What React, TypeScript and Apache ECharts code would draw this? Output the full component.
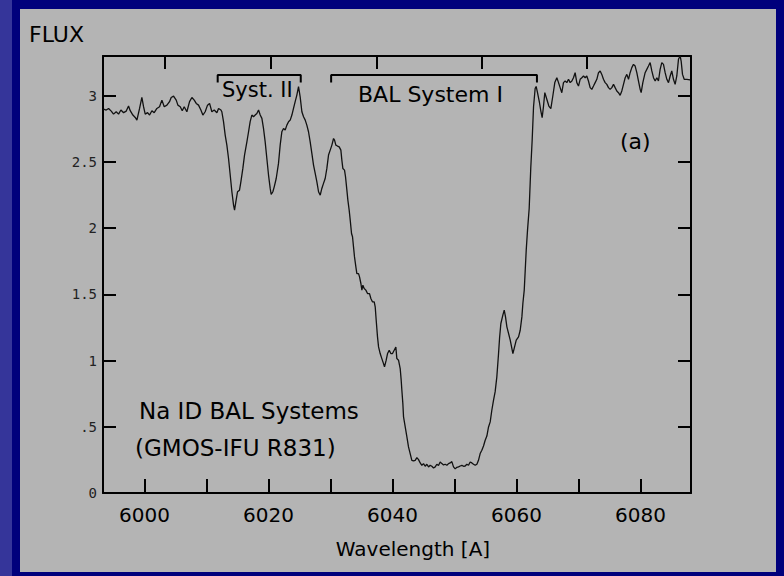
import React, { useEffect, useRef } from "react";
import * as echarts from "echarts";

// Wavelength samples [Å] and flux values
const wavelengths: number[] = [
  5993.39, 5993.82, 5994.2, 5994.63, 5995.0, 5995.43, 5995.81, 5996.19, 5996.62, 5997.05,
  5997.42, 5997.69, 5998.12, 5998.5, 5998.77, 5999.2, 5999.57, 5999.84, 6000.11, 6000.49,
  6000.81, 6001.19, 6001.56, 6001.99, 6002.42, 6002.8, 6003.18, 6003.61, 6004.03, 6004.3,
  6004.68, 6005.11, 6005.38, 6005.76, 6006.08, 6006.4, 6006.83, 6007.26, 6007.64, 6008.02,
  6008.34, 6008.71, 6009.09, 6009.41, 6009.78, 6010.16, 6010.49, 6010.86, 6011.24, 6011.67,
  6011.94, 6012.32, 6012.47, 6012.74, 6013.01, 6013.28, 6013.55, 6013.82, 6014.09, 6014.36,
  6014.52, 6014.73, 6015.0, 6015.32, 6015.54, 6015.86, 6016.13, 6016.51, 6016.78, 6017.04,
  6017.31, 6017.58, 6017.85, 6018.12, 6018.39, 6018.66, 6018.93, 6019.19, 6019.46, 6019.73,
  6020.0, 6020.27, 6020.43, 6020.7, 6020.92, 6021.24, 6021.61, 6021.88, 6022.15, 6022.42,
  6022.69, 6022.96, 6023.23, 6023.5, 6023.77, 6024.03, 6024.3, 6024.57, 6024.84, 6025.11,
  6025.38, 6025.65, 6025.92, 6026.18, 6026.45, 6026.72, 6026.99, 6027.26, 6027.53, 6027.8,
  6028.07, 6028.34, 6028.6, 6028.87, 6029.14, 6029.41, 6029.68, 6029.95, 6030.22, 6030.49,
  6030.65, 6030.86, 6031.13, 6031.4, 6031.67, 6031.83, 6031.99, 6032.26, 6032.42, 6032.64,
  6032.8, 6033.01, 6033.18, 6033.39, 6033.55, 6033.71, 6033.87, 6034.09, 6034.25, 6034.52,
  6034.68, 6034.9, 6035.06, 6035.22, 6035.43, 6035.7, 6035.97, 6036.29, 6036.51, 6036.78,
  6037.05, 6037.21, 6037.37, 6037.58, 6037.75, 6038.01, 6038.28, 6038.55, 6038.71, 6038.98,
  6039.2, 6039.47, 6039.73, 6040.0, 6040.27, 6040.54, 6040.7, 6040.97, 6041.24, 6041.4,
  6041.51, 6041.67, 6041.78, 6042.05, 6042.32, 6042.58, 6042.85, 6043.12, 6043.39, 6043.66,
  6043.93, 6044.2, 6044.47, 6044.73, 6045.0, 6045.27, 6045.54, 6045.81, 6046.08, 6046.35,
  6046.62, 6046.89, 6047.15, 6047.42, 6047.69, 6047.96, 6048.23, 6048.5, 6048.77, 6049.04,
  6049.3, 6049.57, 6049.84, 6050.11, 6050.38, 6050.65, 6050.92, 6051.19, 6051.46, 6051.72,
  6051.99, 6052.26, 6052.53, 6052.8, 6053.07, 6053.34, 6053.61, 6053.87, 6054.14, 6054.41,
  6054.68, 6054.95, 6055.22, 6055.49, 6055.76, 6056.02, 6056.29, 6056.56, 6056.83, 6057.1,
  6057.27, 6057.48, 6057.8, 6058.02, 6058.23, 6058.45, 6058.99, 6059.42, 6059.69, 6059.96,
  6060.33, 6060.6, 6060.87, 6061.03, 6061.25, 6061.41, 6061.57, 6061.78, 6062.05, 6062.3,
  6062.53, 6062.75, 6063.01, 6063.17, 6063.39, 6063.71, 6063.93, 6064.14, 6064.36, 6064.57,
  6064.89, 6065.22, 6065.54, 6065.86, 6066.18, 6066.51, 6066.78, 6067.04, 6067.31, 6067.58,
  6067.85, 6068.12, 6068.39, 6068.66, 6068.93, 6069.19, 6069.46, 6069.73, 6070.0, 6070.27,
  6070.54, 6070.81, 6071.08, 6071.34, 6071.61, 6071.88, 6072.15, 6072.42, 6072.69, 6072.96,
  6073.23, 6073.5, 6073.76, 6074.03, 6074.3, 6074.57, 6074.84, 6075.11, 6075.38, 6075.65,
  6075.91, 6076.18, 6076.45, 6076.72, 6076.99, 6077.26, 6077.53, 6077.8, 6078.07, 6078.33,
  6078.6, 6078.87, 6079.14, 6079.41, 6079.68, 6079.95, 6080.11, 6080.38, 6080.75, 6081.02,
  6081.29, 6081.56, 6081.83, 6082.1, 6082.37, 6082.64, 6082.9, 6083.17, 6083.44, 6083.71,
  6083.98, 6084.25, 6084.52, 6084.79, 6085.05, 6085.32, 6085.59, 6085.86, 6086.13, 6086.4,
  6086.56, 6086.78, 6087.05, 6087.48, 6088.01,
];

const flux: number[] = [
  2.899, 2.892, 2.904, 2.884, 2.861, 2.879, 2.861, 2.892, 2.872, 2.884,
  2.922, 2.887, 2.854, 2.836, 2.816, 2.904, 2.987, 2.917, 2.861, 2.872,
  2.854, 2.887, 2.872, 2.904, 2.917, 2.967, 2.917, 2.929, 2.955, 2.987,
  2.997, 2.967, 2.929, 2.917, 2.887, 2.917, 2.879, 2.955, 2.987, 2.967,
  2.942, 2.929, 2.892, 2.854, 2.879, 2.929, 2.942, 2.879, 2.892, 2.872,
  2.904, 2.892, 2.879, 2.804, 2.703, 2.627, 2.526, 2.401, 2.275, 2.174,
  2.136, 2.199, 2.275, 2.287, 2.35, 2.451, 2.552, 2.652, 2.728, 2.804,
  2.854, 2.841, 2.854, 2.866, 2.892, 2.854, 2.829, 2.753, 2.652, 2.526,
  2.401, 2.3, 2.254, 2.275, 2.312, 2.375, 2.489, 2.627, 2.728, 2.753,
  2.741, 2.778, 2.804, 2.816, 2.854, 2.904, 2.955, 3.005, 3.068, 2.99,
  2.879, 2.841, 2.816, 2.778, 2.728, 2.652, 2.564, 2.476, 2.413, 2.35,
  2.275, 2.249, 2.3, 2.338, 2.375, 2.451, 2.552, 2.589, 2.627, 2.677,
  2.665, 2.627, 2.62, 2.614, 2.589, 2.514, 2.451, 2.438, 2.388, 2.287,
  2.212, 2.136, 2.061, 1.96, 1.935, 1.859, 1.783, 1.708, 1.657, 1.657,
  1.632, 1.582, 1.532, 1.569, 1.544, 1.532, 1.506, 1.506, 1.469, 1.443,
  1.443, 1.406, 1.305, 1.179, 1.103, 1.053, 1.015, 0.977, 0.952, 1.003,
  1.053, 1.078, 1.053, 1.053, 1.078, 1.103, 1.015, 1.003, 0.94, 0.852,
  0.776, 0.675, 0.575, 0.499, 0.424, 0.348, 0.298, 0.247, 0.242, 0.247,
  0.267, 0.252, 0.227, 0.209, 0.222, 0.202, 0.217, 0.197, 0.209, 0.202,
  0.189, 0.197, 0.217, 0.207, 0.234, 0.222, 0.212, 0.217, 0.209, 0.222,
  0.227, 0.237, 0.197, 0.182, 0.194, 0.197, 0.204, 0.209, 0.202, 0.204,
  0.217, 0.209, 0.234, 0.227, 0.217, 0.209, 0.217, 0.247, 0.298, 0.323,
  0.355, 0.398, 0.43, 0.499, 0.537, 0.625, 0.7, 0.765, 0.877, 1.05,
  1.17, 1.28, 1.343, 1.381, 1.33, 1.255, 1.154, 1.053, 1.103, 1.154,
  1.179, 1.229, 1.33, 1.431, 1.532, 1.683, 1.834, 1.985, 2.15, 2.45,
  2.665, 2.917, 3.055, 3.07, 3.023, 2.947, 2.884, 2.834, 2.922, 3.023,
  2.973, 2.922, 2.902, 2.998, 3.099, 3.136, 3.099, 3.061, 3.023, 3.099,
  3.111, 3.099, 3.124, 3.099, 3.111, 3.136, 3.174, 3.099, 3.073, 3.124,
  3.136, 3.149, 3.136, 3.149, 3.111, 3.061, 3.048, 3.073, 3.099, 3.124,
  3.174, 3.187, 3.161, 3.124, 3.099, 3.086, 3.061, 3.048, 3.061, 3.086,
  3.061, 3.036, 3.023, 3.003, 3.036, 3.086, 3.136, 3.161, 3.124, 3.174,
  3.212, 3.237, 3.224, 3.174, 3.111, 3.048, 3.023, 3.099, 3.174, 3.199,
  3.224, 3.25, 3.187, 3.136, 3.111, 3.136, 3.111, 3.199, 3.25, 3.237,
  3.174, 3.124, 3.099, 3.149, 3.187, 3.124, 3.086, 3.149, 3.275, 3.3,
  3.262, 3.161, 3.124, 3.124, 3.119,
];

// Axis ticks and labels
const xTickValues: number[] = [6000, 6010, 6020, 6030, 6040, 6050, 6060, 6070, 6080];
const xLabelValues: number[] = [6000, 6020, 6040, 6060, 6080];
const topTickWavelengths: number[] = [6003.3, 6020.4, 6037.4, 6054.4, 6071.4];
const yTickValues: number[] = [0, 0.5, 1, 1.5, 2, 2.5, 3];

// Absorption system brackets [start, end] in Å, and their heights in flux units
const bracketSystII: number[] = [6011.8, 6025.2];
const bracketSystI: number[] = [6030.1, 6063.3];
const bracketTop = 3.157;
const bracketFoot = 3.099;

const SANS = '"DejaVu Sans", "Liberation Sans", sans-serif';

function bracketData(r: number[]) {
  return [
    [r[0], bracketFoot],
    [r[0], bracketTop],
    [r[1], bracketTop],
    [r[1], bracketFoot],
  ];
}

export default function App() {
  const ref = useRef<HTMLDivElement>(null);
  useEffect(() => {
    const chart = echarts.init(ref.current!, null, { renderer: "svg" });
    const axisLine = { show: true, onZero: false, lineStyle: { color: "#000", width: 2 } };
    const tickStyle = { color: "#000", width: 2 };
    chart.setOption({
      animation: false,
      backgroundColor: "transparent",
      grid: { left: 103, top: 56, width: 588, height: 437, containLabel: false, outerBoundsMode: "none" },
      xAxis: [
        {
          type: "value",
          position: "bottom",
          min: 5993.3,
          max: 6088.15,
          axisLine,
          axisTick: { show: true, inside: true, length: 14, lineStyle: tickStyle, customValues: xTickValues },
          axisLabel: {
            show: true,
            customValues: xLabelValues,
            margin: 12,
            color: "#000",
            fontFamily: SANS,
            fontSize: 20,
            formatter: (v: number) => String(Math.round(v)),
          },
          splitLine: { show: false },
        },
        {
          type: "value",
          position: "top",
          min: 5993.3,
          max: 6088.15,
          axisLine,
          axisTick: { show: true, inside: true, length: 13, lineStyle: tickStyle, customValues: topTickWavelengths },
          axisLabel: { show: false },
          splitLine: { show: false },
        },
      ],
      yAxis: [
        {
          type: "value",
          position: "left",
          min: 0,
          max: 3.3,
          axisLine,
          axisTick: { show: true, inside: true, length: 13, lineStyle: tickStyle, customValues: yTickValues },
          axisLabel: {
            show: true,
            customValues: yTickValues,
            margin: 6,
            color: "#222",
            fontFamily: '"DejaVu Sans Mono", monospace',
            fontSize: 14,
            verticalAlign: "middle",
            padding: [9, 0, 0, 0],
            formatter: (v: number) => (v === 0 ? "0" : String(v).replace(/^0\./, ".")),
          },
          splitLine: { show: false },
        },
        {
          type: "value",
          position: "right",
          min: 0,
          max: 3.3,
          axisLine,
          axisTick: { show: true, inside: true, length: 13, lineStyle: tickStyle, customValues: yTickValues },
          axisLabel: { show: false },
          splitLine: { show: false },
        },
      ],
      series: [
        {
          type: "line",
          xAxisIndex: 0,
          yAxisIndex: 0,
          data: wavelengths.map((w, i) => [w, flux[i]]),
          showSymbol: false,
          symbol: "none",
          lineStyle: { color: "#111", width: 1.3 },
          silent: true,
        },
        {
          type: "line",
          xAxisIndex: 0,
          yAxisIndex: 0,
          data: bracketData(bracketSystII),
          showSymbol: false,
          symbol: "none",
          lineStyle: { color: "#000", width: 2 },
          silent: true,
        },
        {
          type: "line",
          xAxisIndex: 0,
          yAxisIndex: 0,
          data: bracketData(bracketSystI),
          showSymbol: false,
          symbol: "none",
          lineStyle: { color: "#000", width: 2 },
          silent: true,
        },
      ],
      graphic: [
        { type: "text", x: 29, y: 34, style: { text: "FLUX", fill: "#000", font: `22px ${SANS}`, textAlign: "left", textVerticalAlign: "middle" } },
        { type: "text", x: 222, y: 90, style: { text: "Syst. II", fill: "#000", font: `21px ${SANS}`, textAlign: "left", textVerticalAlign: "middle" } },
        { type: "text", x: 358, y: 94, style: { text: "BAL System I", fill: "#000", font: `22px ${SANS}`, textAlign: "left", textVerticalAlign: "middle" } },
        { type: "text", x: 620, y: 141, style: { text: "(a)", fill: "#000", font: `22px ${SANS}`, textAlign: "left", textVerticalAlign: "middle" } },
        { type: "text", x: 139, y: 411, style: { text: "Na ID BAL Systems", fill: "#000", font: `23px ${SANS}`, textAlign: "left", textVerticalAlign: "middle" } },
        { type: "text", x: 135, y: 448, style: { text: "(GMOS-IFU R831)", fill: "#000", font: `23px ${SANS}`, textAlign: "left", textVerticalAlign: "middle" } },
        { type: "text", x: 413, y: 549, style: { text: "Wavelength [A]", fill: "#000", font: `20px ${SANS}`, textAlign: "center", textVerticalAlign: "middle" } },
      ],
    });
    return () => chart.dispose();
  }, []);
  return (
    <div style={{ position: "fixed", left: 0, top: 0, width: 784, height: 576, background: "#35359a", overflow: "hidden" }}>
      <div style={{ position: "absolute", left: 12, top: 0, width: 772, height: 576, background: "#00007c" }} />
      <div style={{ position: "absolute", left: 20, top: 9, width: 756, height: 563, background: "#b4b4b4" }} />
      <div ref={ref} style={{ position: "absolute", left: 0, top: 0, width: 784, height: 576 }} />
    </div>
  );
}
